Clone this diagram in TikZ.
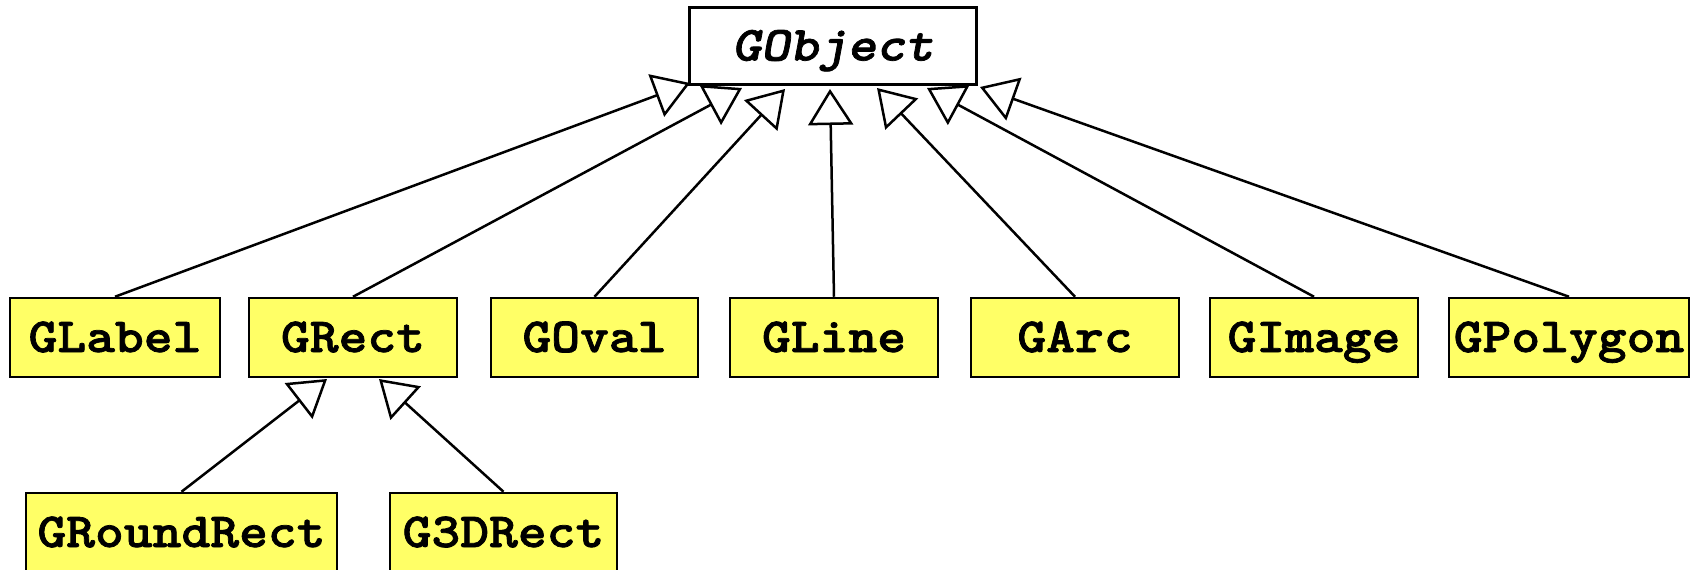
\documentclass[tikz,border=0pt]{standalone}
\usepackage{fontspec}
\setmonofont[Extension=.otf, UprightFont=lmmono10-regular,
  BoldFont=lmmonolt10-bold, BoldItalicFont=lmmonolt10-boldoblique,
  BoldFeatures={FakeBold=1.5}, BoldItalicFeatures={FakeBold=1.5},
  FakeStretch=1.12]{lmmono10-regular}
\usetikzlibrary{arrows.meta}
\definecolor{classfill}{RGB}{255,255,102}
\tikzset{
  cls/.style={draw=black, line width=2.5pt, fill=classfill, inner sep=0pt,
    minimum height=79pt, text height=29pt, text depth=0pt,
    font=\ttfamily\bfseries\fontsize{49}{52}\selectfont},
  abstractcls/.style={cls, fill=white, minimum height=77pt,
    font=\ttfamily\bfseries\itshape\fontsize{49}{52}\selectfont},
  inherit/.style={draw=black, line width=2.5pt,
    -{Triangle[open, length=36pt, width=45pt, line width=2.5pt]}}
}
\begin{document}
\begin{tikzpicture}[x=1pt, y=-1pt]
  \useasboundingbox (0,0) rectangle (1698,570);

  % base class
  \node[abstractcls, minimum width=287pt] (GObject) at (833,46) {GObject};

  % first level of subclasses
  \node[cls, minimum width=210pt] (GLabel)   at (115,337.5)  {GLabel};
  \node[cls, minimum width=208pt] (GRect)    at (353,337.5)  {GRect};
  \node[cls, minimum width=207pt] (GOval)    at (594.5,337.5){GOval};
  \node[cls, minimum width=208pt] (GLine)    at (834,337.5)  {GLine};
  \node[cls, minimum width=208pt] (GArc)     at (1075,337.5) {GArc};
  \node[cls, minimum width=208pt] (GImage)   at (1314,337.5) {GImage};
  \node[cls, minimum width=240pt] (GPolygon) at (1569,337.5) {GPolygon};

  % subclasses of GRect
  \node[cls, minimum width=311pt] (GRoundRect) at (181.5,532.5) {GRoundRect};
  \node[cls, minimum width=227pt] (G3DRect)    at (503.5,532.5) {G3DRect};

  % points where the generalisation arrows meet their parent
  \coordinate (tLabel)   at (690,83);
  \coordinate (tRect)    at (742,88);
  \coordinate (tOval)    at (785,89);
  \coordinate (tLine)    at (830,89);
  \coordinate (tArc)     at (877,88);
  \coordinate (tImage)   at (927,88);
  \coordinate (tPolygon) at (980,87);
  \coordinate (tRound)   at (327,379);
  \coordinate (t3D)      at (379,379);

  % generalisation arrows
  \draw[inherit] (GLabel.north)   -- (tLabel);
  \draw[inherit] (GRect.north)    -- (tRect);
  \draw[inherit] (GOval.north)    -- (tOval);
  \draw[inherit] (GLine.north)    -- (tLine);
  \draw[inherit] (GArc.north)     -- (tArc);
  \draw[inherit] (GImage.north)   -- (tImage);
  \draw[inherit] (GPolygon.north) -- (tPolygon);
  \draw[inherit] (GRoundRect.north) -- (tRound);
  \draw[inherit] (G3DRect.north)    -- (t3D);
\end{tikzpicture}
\end{document}
